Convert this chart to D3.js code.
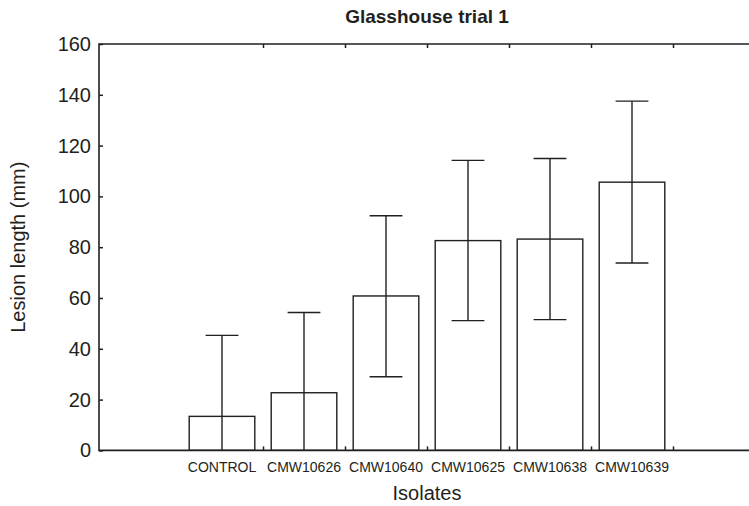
<!DOCTYPE html>
<html>
<head>
<meta charset="utf-8">
<script src="https://cdn.jsdelivr.net/npm/d3@7"></script>
<style>
  body { margin: 0; background: #fff; }
  svg { display: block; font-family: "Liberation Sans", Arial, sans-serif; }
</style>
</head>
<body>
<div id="chart"></div>
<script>
// data
const isolates = ["CONTROL", "CMW10626", "CMW10640", "CMW10625", "CMW10638", "CMW10639"];
const meanLength = [13.4, 22.7, 60.8, 82.6, 83.2, 105.6];
const lowerLength = [-18.5, -9.0, 29.0, 51.1, 51.5, 73.8];
const upperLength = [45.3, 54.3, 92.4, 114.2, 114.9, 137.5];
const yTicks = [0, 20, 40, 60, 80, 100, 120, 140, 160];

const width = 749, height = 506;
const margin = {top: 44, left: 99, bottom: 56};
const ink = "#231f20";

const svg = d3.select("#chart").append("svg")
  .attr("width", width)
  .attr("height", height);

// 8 slots on x, first is empty, last runs off the picture
const x = d3.scaleLinear().domain([0, 8]).range([margin.left, 755]);
const y = d3.scaleLinear().domain([0, 160]).range([height - margin.bottom + 0.4, margin.top]);

const barW = (x(1) - x(0)) * 0.8;
const capW = barW / 2;

svg.append("defs").append("clipPath").attr("id", "plot")
  .append("rect")
  .attr("x", x(0)).attr("y", y(160))
  .attr("width", x(8) - x(0)).attr("height", y(0) - y(160));

// bars
const plot = svg.append("g").attr("clip-path", "url(#plot)");

plot.selectAll("rect.bar")
  .data(meanLength)
  .join("rect")
  .attr("class", "bar")
  .attr("x", (d, i) => x(i + 1.5) - barW / 2)
  .attr("y", d => y(d))
  .attr("width", barW)
  .attr("height", d => y(0) - y(d))
  .attr("fill", "#fff")
  .attr("stroke", ink)
  .attr("stroke-width", 1.4);

// error bars
const err = plot.selectAll("g.err")
  .data(isolates)
  .join("g")
  .attr("class", "err")
  .attr("stroke", ink)
  .attr("stroke-width", 1.4);

err.append("line")
  .attr("x1", (d, i) => x(i + 1.5)).attr("x2", (d, i) => x(i + 1.5))
  .attr("y1", (d, i) => y(lowerLength[i]))
  .attr("y2", (d, i) => y(upperLength[i]));
err.append("line")
  .attr("x1", (d, i) => x(i + 1.5) - capW / 2).attr("x2", (d, i) => x(i + 1.5) + capW / 2)
  .attr("y1", (d, i) => y(upperLength[i])).attr("y2", (d, i) => y(upperLength[i]));
err.append("line")
  .attr("x1", (d, i) => x(i + 1.5) - capW / 2).attr("x2", (d, i) => x(i + 1.5) + capW / 2)
  .attr("y1", (d, i) => y(lowerLength[i])).attr("y2", (d, i) => y(lowerLength[i]));

// axes, ticks pointing inward
const yAxis = svg.append("g")
  .attr("transform", `translate(${x(0)},0)`)
  .call(d3.axisLeft(y).tickValues(yTicks).tickSizeInner(-4).tickSizeOuter(0).tickPadding(8));

const xTickVals = d3.range(2, 8);
const xBottom = svg.append("g")
  .attr("transform", `translate(0,${y(0)})`)
  .call(d3.axisBottom(x).tickValues(xTickVals).tickSizeInner(-4).tickSizeOuter(0).tickFormat(""));
const xTop = svg.append("g")
  .attr("transform", `translate(0,${y(160)})`)
  .call(d3.axisTop(x).tickValues(xTickVals).tickSizeInner(-4).tickSizeOuter(0).tickFormat(""));

[yAxis, xBottom, xTop].forEach(g => {
  g.select(".domain").remove();
  g.selectAll(".tick line").attr("stroke", ink).attr("stroke-width", 1.5);
});

yAxis.selectAll(".tick text")
  .attr("fill", ink)
  .style("font-size", "20px");

// frame
svg.append("path")
  .attr("d", `M${x(8)},${y(160)}H${x(0)}V${y(0)}H${x(8)}`)
  .attr("fill", "none")
  .attr("stroke", ink)
  .attr("stroke-width", 1.6);

// category labels
svg.selectAll("text.cat")
  .data(isolates)
  .join("text")
  .attr("class", "cat")
  .attr("x", (d, i) => x(i + 1.5))
  .attr("y", y(0) + 22)
  .attr("text-anchor", "middle")
  .attr("fill", ink)
  .style("font-size", "14px")
  .text(d => d);

// titles
svg.append("text")
  .attr("x", x(4))
  .attr("y", 23)
  .attr("text-anchor", "middle")
  .attr("fill", ink)
  .style("font-size", "19px")
  .style("font-weight", "bold")
  .text("Glasshouse trial 1");

svg.append("text")
  .attr("x", x(4))
  .attr("y", 500)
  .attr("text-anchor", "middle")
  .attr("fill", ink)
  .style("font-size", "20px")
  .text("Isolates");

svg.append("text")
  .attr("transform", `translate(25,${y(80)}) rotate(-90)`)
  .attr("text-anchor", "middle")
  .attr("fill", ink)
  .style("font-size", "20px")
  .text("Lesion length (mm)");
</script>
</body>
</html>
